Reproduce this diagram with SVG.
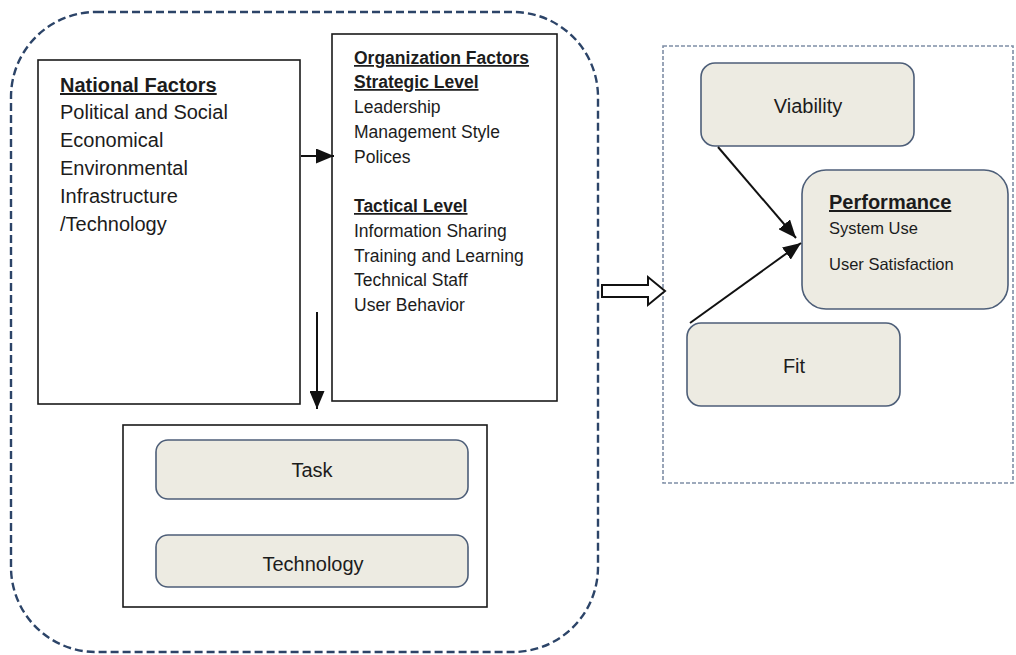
<svg xmlns="http://www.w3.org/2000/svg" width="1016" height="655" viewBox="0 0 1016 655">
  <style>
    text { font-family: "Liberation Sans", Arial, sans-serif; fill: #1c1c1c; }
    .big { font-size: 20px; }
    .small { font-size: 17.5px; }
    .perf { font-size: 16.5px; }
    .head { font-weight: bold; text-decoration: underline; }
    .label { font-size: 20px; text-anchor: middle; }
    .plain { fill: #ffffff; stroke: #1a1a1a; stroke-width: 1.6; }
    .pill { fill: #edebe2; stroke: #4d5e78; stroke-width: 1.6; }
    .group-outline { fill: none; stroke: #2c4468; stroke-width: 2.4; stroke-dasharray: 8 4; }
    .result-outline { fill: none; stroke: #7f8ea6; stroke-width: 1.6; stroke-dasharray: 4 2; }
    .link { stroke: #111111; stroke-width: 2; fill: none; }
  </style>
  <defs>
    <marker id="head" markerUnits="userSpaceOnUse" markerWidth="18" markerHeight="15" refX="18" refY="7.5" orient="auto">
      <path d="M0,0 L18,7.5 L0,15 z" fill="#111111"/>
    </marker>
  </defs>

  <rect width="1016" height="655" fill="#ffffff"/>

  <!-- grouping outlines -->
  <g id="context-group">
    <rect class="group-outline" x="11" y="12" width="587" height="640" rx="85" ry="85"/>
  </g>
  <g id="results-group">
    <rect class="result-outline" x="663" y="46" width="350" height="437"/>
  </g>

  <!-- national factors -->
  <g id="national-factors">
    <rect class="plain" x="38" y="60" width="262" height="344"/>
    <text class="big head" x="60" y="92">National Factors</text>
    <text class="big" x="60" y="119">Political and Social</text>
    <text class="big" x="60" y="147">Economical</text>
    <text class="big" x="60" y="175">Environmental</text>
    <text class="big" x="60" y="203">Infrastructure</text>
    <text class="big" x="60" y="231">/Technology</text>
  </g>

  <!-- organization factors -->
  <g id="organization-factors">
    <rect class="plain" x="332" y="34" width="225" height="367"/>
    <text class="small head" x="354" y="64">Organization Factors</text>
    <text class="small head" x="354" y="88">Strategic Level</text>
    <text class="small" x="354" y="113">Leadership</text>
    <text class="small" x="354" y="138">Management Style</text>
    <text class="small" x="354" y="163">Polices</text>
    <text class="small head" x="354" y="212">Tactical Level</text>
    <text class="small" x="354" y="237">Information Sharing</text>
    <text class="small" x="354" y="262">Training and Learning</text>
    <text class="small" x="354" y="286">Technical Staff</text>
    <text class="small" x="354" y="311">User Behavior</text>
  </g>

  <!-- task / technology container -->
  <g id="task-technology">
    <rect class="plain" x="123" y="425" width="364" height="182"/>
  </g>
  <g id="task">
    <rect class="pill" x="156" y="440" width="312" height="59" rx="12" ry="12"/>
    <text class="label" x="312" y="477">Task</text>
  </g>
  <g id="technology">
    <rect class="pill" x="156" y="535" width="312" height="52" rx="12" ry="12"/>
    <text class="label" x="313" y="571">Technology</text>
  </g>

  <!-- outcome side -->
  <g id="viability">
    <rect class="pill" x="701" y="63" width="213" height="83" rx="14" ry="14"/>
    <text class="label" x="808" y="113">Viability</text>
  </g>
  <g id="performance">
    <rect class="pill" x="802" y="170" width="206" height="139" rx="24" ry="24"/>
    <text class="big head" x="829" y="209">Performance</text>
    <text class="perf" x="829" y="234">System Use</text>
    <text class="perf" x="829" y="270">User Satisfaction</text>
  </g>
  <g id="fit">
    <rect class="pill" x="687" y="323" width="213" height="83" rx="14" ry="14"/>
    <text class="label" x="794" y="373">Fit</text>
  </g>

  <!-- connectors -->
  <g id="connectors">
    <line class="link" x1="301" y1="156" x2="334" y2="156" marker-end="url(#head)"/>
    <line class="link" x1="317" y1="312" x2="317" y2="409" marker-end="url(#head)"/>
    <line class="link" x1="718" y1="147" x2="796" y2="238" marker-end="url(#head)"/>
    <line class="link" x1="690" y1="323" x2="801" y2="243" marker-end="url(#head)"/>
    <path d="M602,285 L648,285 L648,277 L665,291 L648,305 L648,297 L602,297 Z" fill="#ffffff" stroke="#111111" stroke-width="2" stroke-linejoin="miter"/>
  </g>
</svg>
